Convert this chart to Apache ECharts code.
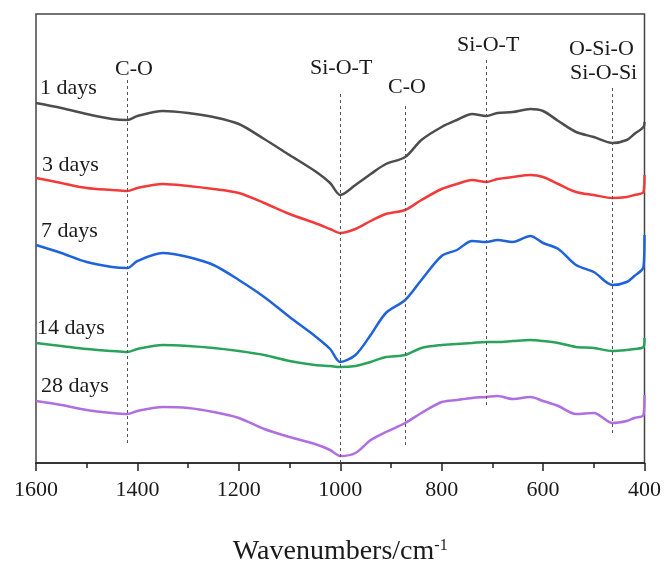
<!DOCTYPE html>
<html><head><meta charset="utf-8">
<script src="https://cdn.jsdelivr.net/npm/echarts@6/dist/echarts.min.js"></script>
<style>html,body{margin:0;padding:0;background:#fff}#c{width:664px;height:574px}</style>
</head><body><div id="c"></div>
<script>
var wavenumbers = [1600,1550,1500,1450,1420,1400,1350,1300,1250,1200,1150,1100,1050,1020,1000,970,940,910,872,840,800,770,740,712,690,660,625,600,570,535,500,463,435,420,402,400];
var day1  = [360,355,349,344,343,347,352,350,346,339,324,308,292,280,268,278,289,299,306,323,336,343,349,347,350,351,354,352,342,331,326,320,323,329,336,341];
var day3  = [285,280,275,273,272,275,279,277,274,270,260,249,240,234,230,234,242,249,253,263,274,279,283,281,284,286,288,286,279,271,268,265,266,268,271,288];
var day7  = [218,210,201,196,195,202,210,206,198,183,166,146,127,114,101,108,128,150,163,183,207,213,222,221,223,221,227,220,214,198,191,178,181,187,196,228];
var day14 = [120,117,114,112,111,114,118,117,115,112,108,102,98,97,96,97,101,106,108,115,118,119,120,121,121,122,123,122,120,116,115,112,113,114,116,125];
var day28 = [62,58,53,50,49,52,56,55,51,45,34,26,19,13,7,10,23,31,40,50,61,63,65,66,67,64,66,62,57,49,50,40,42,45,48,68];
var seriesNames = ['1 days','3 days','7 days','14 days','28 days'];
var seriesColors = ['#4d4d4d','#f23a3a','#1f63dc','#2aa35a','#b06ee0'];
var bandPositions = [1420,1000,872,712,463];
var bandTops = [383,369,357,403,375];
var bandBottoms = [20,0,15,56,27];
var xTicks = [1600,1400,1200,1000,800,600,400];

var allData = [day1, day3, day7, day14, day28];
function pairs(arr){ return wavenumbers.map(function(w,i){ return [w, arr[i]]; }); }

var series = allData.map(function(arr, k){
  return {
    type:'line', name: seriesNames[k], data: pairs(arr), showSymbol:false, smooth:0.3,
    lineStyle:{color:seriesColors[k], width:2.5}, itemStyle:{color:seriesColors[k]}, z:3
  };
});
series.push({
  type:'line', data:[], silent:true,
  markLine:{
    symbol:['none','none'], silent:true, label:{show:false},
    lineStyle:{color:'#555', type:[3,3], width:1},
    data: bandPositions.map(function(w,i){ return [{coord:[w, bandTops[i]]},{coord:[w, bandBottoms[i]]}]; })
  }
});

var font = '"Liberation Serif","Times New Roman",serif';
var chart = echarts.init(document.getElementById('c'));
chart.setOption({
  animation:false,
  grid:{left:36, right:16, top:14, bottom:111, show:true, borderColor:'#444', borderWidth:1.5},
  xAxis:{
    type:'value', inverse:true, min:400, max:1600, interval:200, splitNumber:6,
    axisLine:{show:true, onZero:false, lineStyle:{color:'#222', width:1.5}},
    axisTick:{show:true, inside:false, length:8, lineStyle:{color:'#222', width:1.5}},
    minorTick:{show:true, splitNumber:2, length:5, lineStyle:{color:'#222', width:1.5}},
    splitLine:{show:false},
    axisLabel:{margin:16, fontFamily:font, fontSize:22, color:'#1a1a1a',
      formatter:function(v){ return xTicks.indexOf(v)>=0 ? String(v) : ''; }},
    name:'{a|Wavenumbers/cm}{b|-1}', nameLocation:'middle', nameGap:75,
    nameTextStyle:{rich:{a:{fontFamily:font, fontSize:28, color:'#1a1a1a', verticalAlign:'bottom'}, b:{fontFamily:font, fontSize:16, color:'#1a1a1a', verticalAlign:'top', padding:[0,0,10,0]}}}
  },
  yAxis:{type:'value', min:0, max:449, show:false},
  series: series,
  graphic:[
    {type:'text', left:40, top:77, style:{text:'1 days', font:'22px '+font, fill:'#1a1a1a'}},
    {type:'text', left:42, top:154, style:{text:'3 days', font:'22px '+font, fill:'#1a1a1a'}},
    {type:'text', left:41, top:220, style:{text:'7 days', font:'22px '+font, fill:'#1a1a1a'}},
    {type:'text', left:37, top:317, style:{text:'14 days', font:'22px '+font, fill:'#1a1a1a'}},
    {type:'text', left:41, top:375, style:{text:'28 days', font:'22px '+font, fill:'#1a1a1a'}},
    {type:'text', left:115, top:58, style:{text:'C-O', font:'22px '+font, fill:'#1a1a1a'}},
    {type:'text', left:310, top:57, style:{text:'Si-O-T', font:'22px '+font, fill:'#1a1a1a'}},
    {type:'text', left:388, top:76, style:{text:'C-O', font:'22px '+font, fill:'#1a1a1a'}},
    {type:'text', left:457, top:34, style:{text:'Si-O-T', font:'22px '+font, fill:'#1a1a1a'}},
    {type:'text', left:569, top:38, style:{text:'O-Si-O', font:'22px '+font, fill:'#1a1a1a'}},
    {type:'text', left:570, top:62, style:{text:'Si-O-Si', font:'22px '+font, fill:'#1a1a1a'}}
  ]
});
</script></body></html>
